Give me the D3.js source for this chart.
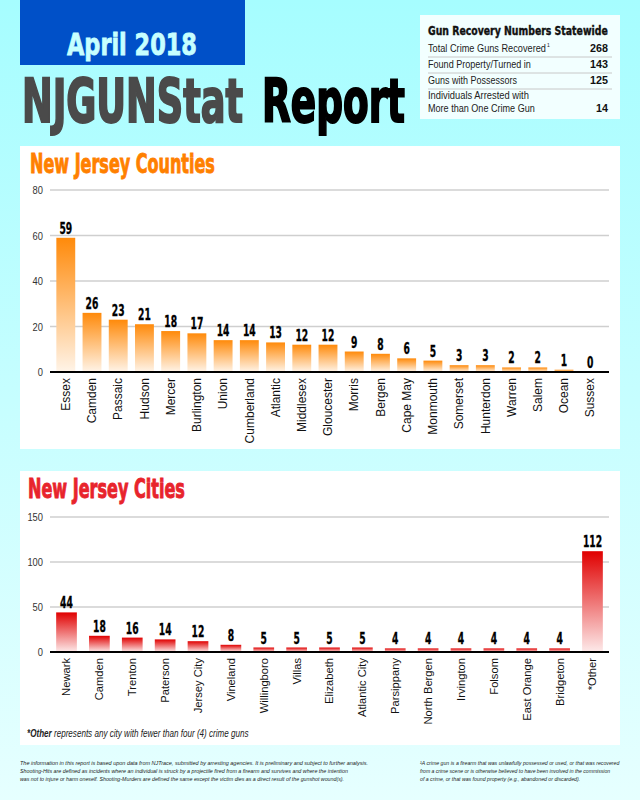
<!DOCTYPE html>
<html><head><meta charset="utf-8">
<script src="https://cdn.jsdelivr.net/npm/d3@7"></script>
<style>
html,body{margin:0;padding:0;}
svg{display:block;}
</style></head>
<body>
<script>
const counties = ["Essex","Camden","Passaic","Hudson","Mercer","Burlington","Union","Cumberland","Atlantic","Middlesex","Gloucester","Morris","Bergen","Cape May","Monmouth","Somerset","Hunterdon","Warren","Salem","Ocean","Sussex"];
const countyValues = [59,26,23,21,18,17,14,14,13,12,12,9,8,6,5,3,3,2,2,1,0];
const countyTicks = [0,20,40,60,80];

const cities = ["Newark","Camden","Trenton","Paterson","Jersey City","Vineland","Willingboro","Villas","Elizabeth","Atlantic City","Parsippany","North Bergen","Irvington","Folsom","East Orange","Bridgeton","*Other"];
const cityValues = [44,18,16,14,12,8,5,5,5,5,4,4,4,4,4,4,112];
const cityTicks = [0,50,100,150];

const statLabels = ["Total Crime Guns Recovered", "Found Property/Turned in", "Guns with Possessors", "Individuals Arrested with|More than One Crime Gun"];
const statValues = [268,143,125,14];

const W = 640, H = 800;
const COND = "'DejaVu Sans Condensed','Liberation Sans Narrow',sans-serif";
const SANS = "'Liberation Sans',Arial,sans-serif";

const svg = d3.select("body").append("svg").attr("width",W).attr("height",H);
const defs = svg.append("defs");
const bg = defs.append("linearGradient").attr("id","bg").attr("x1",0).attr("y1",0).attr("x2",0).attr("y2",1);
bg.append("stop").attr("offset","0%").attr("stop-color","#a6fdff");
bg.append("stop").attr("offset","100%").attr("stop-color","#e6ffff");
svg.append("rect").attr("width",W).attr("height",H).attr("fill","url(#bg)");

function grad(id, top, bottom){
  const g = defs.append("linearGradient").attr("id",id).attr("x1",0).attr("y1",0).attr("x2",0).attr("y2",1);
  g.append("stop").attr("offset","0%").attr("stop-color",top);
  g.append("stop").attr("offset","100%").attr("stop-color",bottom);
}
grad("gOrange","#ff8a0a","#fff4e8");
grad("gRed","#e00000","#fdeaea");

// squeeze a text horizontally to a target width using a transform
function squeeze(sel, x, y, len){
  sel.attr("x",0).attr("y",0);
  sel.each(function(){
    const nat = this.getComputedTextLength() || len;
    const s = len / nat;
    d3.select(this).attr("transform",`translate(${x},${y}) scale(${s},1)`);
  });
  return sel;
}

// Header
svg.append("rect").attr("x",20).attr("y",0).attr("width",225).attr("height",65).attr("fill","#0050c8");
squeeze(svg.append("text").attr("font-family",COND).attr("font-weight","bold")
  .attr("font-size",31).attr("fill","#c6ffff").attr("stroke","#c6ffff").attr("stroke-width",0.8).text("April 2018"), 67, 55, 130);
squeeze(svg.append("text").attr("font-family",COND).attr("font-weight","bold")
  .attr("font-size",60).attr("fill","#4a4a4a").attr("stroke","#4a4a4a").attr("stroke-width",2).text("NJGUNStat"), 22, 122, 221);
squeeze(svg.append("text").attr("font-family",COND).attr("font-weight","bold")
  .attr("font-size",60).attr("fill","#000").attr("stroke","#000").attr("stroke-width",2).text("Report"), 262, 122, 143);

// Stats box
const sb = svg.append("g");
sb.append("rect").attr("x",420).attr("y",15).attr("width",200).attr("height",104).attr("fill","#f2ffff");
squeeze(sb.append("text").attr("font-family",COND).attr("font-weight","bold").attr("font-size",13)
  .attr("fill","#111").attr("stroke","#111").attr("stroke-width",0.4).text("Gun Recovery Numbers Statewide"), 428, 35, 180);
const rowY = [[52],[68],[84],[99,112]];
const rowLen = [[118],[103],[89],[101,107]];
const sepY = [57,73,89];
sepY.forEach(y=> sb.append("line").attr("x1",428).attr("x2",612).attr("y1",y).attr("y2",y).attr("stroke","#c8c8c8").attr("stroke-width",1));
statLabels.forEach((lab,i)=>{
  const parts = lab.split("|");
  parts.forEach((p,j)=>{
    squeeze(sb.append("text").attr("font-family",SANS).attr("font-size",10.5).attr("fill","#222").text(p), 428, rowY[i][j], rowLen[i][j]);
    if(i===0){ sb.append("text").attr("x",428+rowLen[i][j]+1).attr("y",rowY[i][j]-5).attr("font-family",SANS).attr("font-size",5).attr("fill","#222").text("1"); }
  });
  const v = sb.append("text").attr("text-anchor","end").attr("font-family",SANS).attr("font-weight","bold").attr("font-size",11).attr("fill","#111").text(statValues[i]);
  squeeze(v, 608, rowY[i][rowY[i].length-1], String(statValues[i]).length*6);
});

function chart(opts){
  const g = svg.append("g");
  g.append("rect").attr("x",20).attr("y",opts.panelTop).attr("width",600).attr("height",opts.panelH).attr("fill","#fff");
  squeeze(g.append("text").attr("font-family",COND).attr("font-weight","bold")
    .attr("font-size",27).attr("fill",opts.titleColor).attr("stroke",opts.titleColor).attr("stroke-width",0.9).text(opts.title), opts.titleX, opts.titleY, opts.titleLen);
  const y = d3.scaleLinear().domain([0,opts.max]).range([opts.y0,opts.yTop]);
  const x = d3.scaleBand().domain(opts.cats).range(opts.xRange).paddingInner(opts.pad).paddingOuter(opts.pad);
  const yAxis = d3.axisLeft(y).tickValues(opts.ticks).tickSize(0).tickPadding(0);
  const ax = g.append("g").attr("transform","translate(43,0)").call(yAxis);
  ax.select(".domain").remove();
  ax.selectAll(".tick text").attr("font-family",SANS).attr("font-size",11).attr("fill","#333").attr("dy","0.32em")
    .attr("textLength",d=>String(d).length*5.2).attr("lengthAdjust","spacingAndGlyphs");
  g.selectAll(".grid").data(opts.ticks.filter(t=>t>0)).enter().append("line")
    .attr("x1",50).attr("x2",609).attr("y1",d=>y(d)).attr("y2",d=>y(d)).attr("stroke","#cfcfcf").attr("stroke-width",1.5);
  g.selectAll(".bar").data(opts.vals).enter().append("rect")
    .attr("x",(d,i)=>x(opts.cats[i])).attr("width",x.bandwidth())
    .attr("y",d=>y(d)).attr("height",d=>opts.y0-y(d)).attr("fill",opts.fill);
  g.selectAll(".val").data(opts.vals).enter().append("text")
    .attr("text-anchor","middle").attr("font-family",COND).attr("font-weight","bold").attr("font-size",15).attr("fill","#000")
    .attr("stroke","#000").attr("stroke-width",0.3).text(d=>d)
    .each(function(d,i){
      squeeze(d3.select(this), x(opts.cats[i])+x.bandwidth()/2, y(d)-4, String(d).length*6.4);
    });
  g.append("line").attr("x1",50).attr("x2",609).attr("y1",opts.y0).attr("y2",opts.y0).attr("stroke","#000").attr("stroke-width",2);
  const xAxis = d3.axisBottom(x).tickSize(0).tickPadding(0);
  const xa = g.append("g").attr("transform",`translate(0,${opts.y0})`).call(xAxis);
  xa.select(".domain").remove();
  xa.selectAll("text").attr("font-family",SANS).attr("font-size",opts.labelSize).attr("fill","#111")
    .attr("text-anchor","end").attr("transform","translate(0,6) rotate(-90)").attr("x",0).attr("y",0).attr("dy","0.35em").attr("dx",0);
  return g;
}

chart({panelTop:146,panelH:303,title:"New Jersey Counties",titleX:30,titleY:173,titleColor:"#ff8000",titleLen:185,
  cats:counties,vals:countyValues,max:80,ticks:countyTicks,y0:372,yTop:190,xRange:[49,607],pad:0.28,fill:"url(#gOrange)",labelSize:12});

chart({panelTop:471,panelH:274,title:"New Jersey Cities",titleX:28,titleY:498,titleColor:"#e8242c",titleLen:157,
  cats:cities,vals:cityValues,max:150,ticks:cityTicks,y0:652,yTop:517,xRange:[44,615],pad:0.37,fill:"url(#gRed)",labelSize:11.2});

const fn = svg.append("text").attr("font-family",SANS).attr("font-style","italic").attr("font-size",10.5).attr("fill","#222");
fn.append("tspan").attr("font-weight","bold").text("*Other");
fn.append("tspan").text(" represents any city with fewer than four (4) crime guns");
squeeze(fn, 27, 737, 222);

const footL = ["The information in this report is based upon data from NJTrace, submitted by arresting agencies. It is preliminary and subject to further analysis.",
"Shooting-Hits are defined as incidents where an individual is struck by a projectile fired from a firearm and survives and where the intention",
"was not to injure or harm oneself. Shooting-Murders are defined the same except the victim dies as a direct result of the gunshot wound(s)."];
const footLLen = [348,328,324];
const footR = ["\u00B9A crime gun is a firearm that was unlawfully possessed or used, or that was recovered",
"from a crime scene or is otherwise believed to have been involved in the commission",
"of a crime, or that was found property (e.g., abandoned or discarded)."];
const footRLen = [199,190,160];
footL.forEach((t,i)=> squeeze(svg.append("text").attr("font-family",SANS).attr("font-style","italic")
  .attr("font-size",6.2).attr("fill","#222").text(t), 20, 765+i*8, footLLen[i]));
footR.forEach((t,i)=> squeeze(svg.append("text").attr("font-family",SANS).attr("font-style","italic")
  .attr("font-size",6.2).attr("fill","#222").text(t), 420, 765+i*8, footRLen[i]));
</script>
</body></html>
